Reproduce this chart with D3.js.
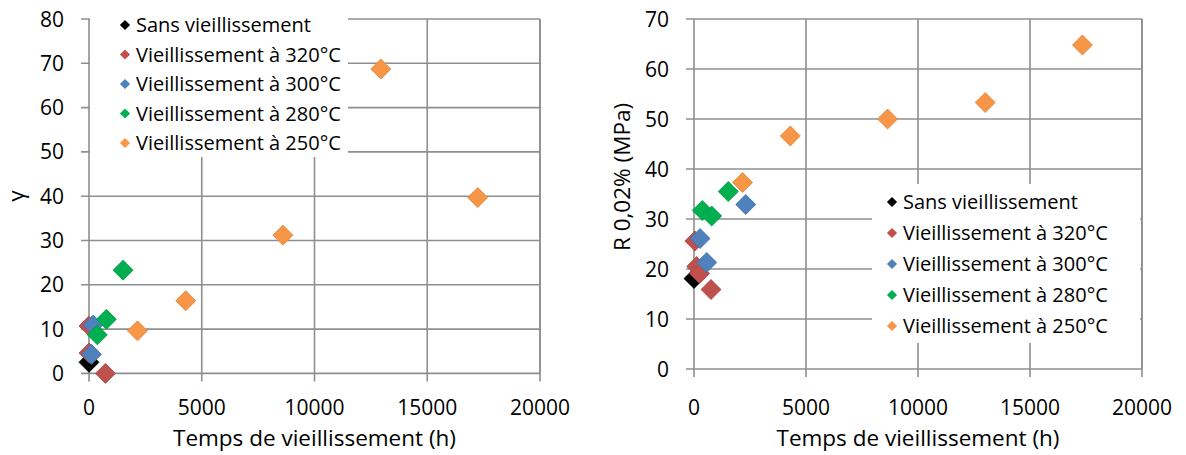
<!DOCTYPE html>
<html>
<head>
<meta charset="utf-8">
<script src="https://cdn.jsdelivr.net/npm/d3@7"></script>
<style>
  body { margin: 0; background: #fff; }
  svg { display: block; font-family: "Open Sans", sans-serif; }
  .tick-label { font-size: 21px; fill: #000; }
  .axis-title { font-size: 22.5px; fill: #000; }
  .legend-text { font-size: 20px; fill: #000; }
</style>
</head>
<body>
<div id="chart"></div>
<script>
// tick values
const TIME_TICKS = [0, 5000, 10000, 15000, 20000];
const GAMMA_TICKS = [0, 10, 20, 30, 40, 50, 60, 70, 80];
const R_TICKS = [0, 10, 20, 30, 40, 50, 60, 70];

const SERIES_NAMES = [
  "Sans vieillissement",
  "Vieillissement à 320°C",
  "Vieillissement à 300°C",
  "Vieillissement à 280°C",
  "Vieillissement à 250°C"
];

// left chart : gamma, [time (h), value]
const GAMMA_REF = [[0, 2.5]];
const GAMMA_320 = [[0, 10.7], [0, 4.6], [730, 0]];
const GAMMA_300 = [[180, 10.9], [110, 4.3]];
const GAMMA_280 = [[370, 8.7], [770, 12.2], [1510, 23.3]];
const GAMMA_250 = [[2150, 9.6], [4290, 16.4], [8600, 31.2], [12940, 68.7], [17240, 39.7]];

// right chart : R 0,02% (MPa), [time (h), value]
const R_REF = [[0, 18.1]];
const R_320 = [[40, 25.6], [120, 20.5], [250, 19.1], [760, 15.9]];
const R_300 = [[270, 26.1], [570, 21.3], [2310, 32.9]];
const R_280 = [[370, 31.7], [790, 30.6], [1530, 35.5]];
const R_250 = [[2170, 37.3], [4300, 46.6], [8640, 50.0], [13000, 53.3], [17340, 64.8]];

const COLORS = ["#000000", "#C0504D", "#4F81BD", "#00B050", "#F79646"];
const GRID = "#8f8f8f";

const SVG = d3.select("#chart").append("svg")
  .attr("width", 1186)
  .attr("height", 455);

function drawChart(opt) {
  const X = d3.scaleLinear().domain([0, 20000]).range([opt.left, opt.right]);
  const Y = d3.scaleLinear().domain([0, opt.yMax]).range([opt.bottom, opt.top]);
  const G = SVG.append("g");

  // gridlines
  G.selectAll(".hgrid").data(opt.yTicks).enter().append("line")
    .attr("x1", opt.left - 8).attr("x2", opt.right)
    .attr("y1", (d) => Y(d)).attr("y2", (d) => Y(d))
    .attr("stroke", GRID).attr("stroke-width", 1.6);
  G.selectAll(".vgrid").data(TIME_TICKS).enter().append("line")
    .attr("x1", (d) => X(d)).attr("x2", (d) => X(d))
    .attr("y1", opt.top).attr("y2", opt.bottom + 8)
    .attr("stroke", GRID).attr("stroke-width", 1.6);

  // tick labels
  G.selectAll(".ylab").data(opt.yTicks).enter().append("text")
    .attr("class", "tick-label")
    .attr("x", opt.left - 25)
    .attr("y", (d) => Y(d))
    .attr("dy", "0.36em")
    .attr("text-anchor", "end")
    .text((d) => d);
  G.selectAll(".xlab").data(TIME_TICKS).enter().append("text")
    .attr("class", "tick-label")
    .attr("x", (d) => X(d))
    .attr("y", 407)
    .attr("dy", "0.36em")
    .attr("text-anchor", "middle")
    .text((d) => d);

  G.append("text")
    .attr("class", "axis-title")
    .attr("x", (opt.left + opt.right) / 2)
    .attr("y", 438)
    .attr("dy", "0.36em")
    .attr("text-anchor", "middle")
    .text("Temps de vieillissement (h)");

  G.append("text")
    .attr("class", "axis-title")
    .attr("transform", "translate(" + opt.yTitleX + "," + opt.yTitleY + ") rotate(-90)")
    .attr("dy", "0.36em")
    .attr("text-anchor", "middle")
    .text(opt.yTitle);

  // points
  const DIAMOND = d3.symbol(d3.symbolSquare, 200);
  opt.series.forEach((s, i) => {
    G.selectAll(".pt" + i).data(s).enter().append("path")
      .attr("d", DIAMOND)
      .attr("transform", (d) => "translate(" + X(d[0]) + "," + Y(d[1]) + ") rotate(45)")
      .attr("fill", COLORS[i])
      .attr("stroke", d3.color(COLORS[i]).darker(0.3))
      .attr("stroke-width", 0.8);
  });

  // legend
  const L = opt.legend;
  G.append("rect")
    .attr("x", L.x).attr("y", L.y)
    .attr("width", L.w).attr("height", L.h)
    .attr("fill", "#fff");
  const SMALL = d3.symbol(d3.symbolSquare, 52);
  const ROW = G.selectAll(".leg").data(SERIES_NAMES).enter().append("g")
    .attr("transform", (d, i) => "translate(" + L.mx + "," + (L.y0 + i * L.step) + ")");
  ROW.append("path")
    .attr("d", SMALL)
    .attr("transform", "rotate(45)")
    .attr("fill", (d, i) => COLORS[i]);
  ROW.append("text")
    .attr("class", "legend-text")
    .attr("x", 11)
    .attr("dy", "0.36em")
    .text((d) => d);

  // plot border on the right
  G.append("line")
    .attr("x1", opt.right).attr("x2", opt.right)
    .attr("y1", opt.top).attr("y2", opt.bottom)
    .attr("stroke", GRID).attr("stroke-width", 1.6);
}

drawChart({
  left: 89, right: 540, top: 19, bottom: 373.4,
  yMax: 80, yTicks: GAMMA_TICKS,
  yTitle: "γ", yTitleX: 16, yTitleY: 196,
  series: [GAMMA_REF, GAMMA_320, GAMMA_300, GAMMA_280, GAMMA_250],
  legend: { x: 90, y: 4, w: 258, h: 153, mx: 125, y0: 25, step: 29.5 }
});

drawChart({
  left: 694, right: 1142, top: 19, bottom: 369,
  yMax: 70, yTicks: R_TICKS,
  yTitle: "R 0,02% (MPa)", yTitleX: 622, yTitleY: 177,
  series: [R_REF, R_320, R_300, R_280, R_250],
  legend: { x: 872, y: 184, w: 268, h: 159, mx: 892, y0: 202, step: 31 }
});
</script>
</body>
</html>
